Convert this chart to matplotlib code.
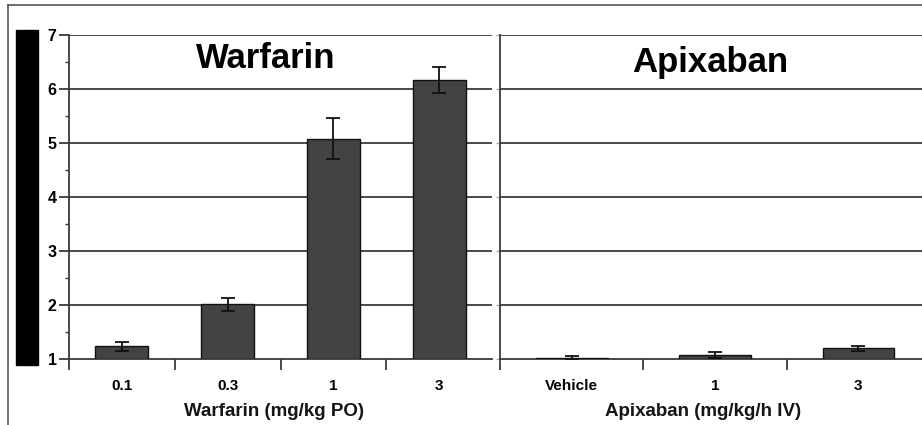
import numpy as np
import matplotlib
matplotlib.use('Agg')
import matplotlib.pyplot as plt
from matplotlib.patches import Rectangle
from matplotlib.lines import Line2D

plt.rcParams['font.family'] = ['Liberation Sans', 'DejaVu Sans']

# data
warf_doses = ['0.1', '0.3', '1', '3']
warf_vals = [1.24, 2.02, 5.08, 6.17]
warf_err = [0.08, 0.12, 0.38, 0.24]

apix_doses = ['Vehicle', '1', '3']
apix_vals = [1.03, 1.08, 1.20]
apix_err = [0.03, 0.05, 0.04]

yticks = [1, 2, 3, 4, 5, 6, 7]

W, H = 922, 425
fig = plt.figure(figsize=(W / 100, H / 100), dpi=100)

def px(x0, y0, x1, y1):
    # pixel box -> figure fraction [left, bottom, width, height]
    return [x0 / W, 1 - y1 / H, (x1 - x0) / W, (y1 - y0) / H]

ax1 = fig.add_axes(px(69, 35, 492, 359.3))
ax2 = fig.add_axes(px(500, 35, 930, 359.3))

barcol = '#434343'
gridcol = '#3a3a3a'

def setup(ax, labels, vals, errs, xlabel, lx, title, tx, ty, first):
    n = len(labels)
    x = np.arange(n)
    ax.set_axisbelow(True)
    ax.bar(x, [v - 1 for v in vals], bottom=1, width=0.5, color=barcol,
           edgecolor='#111111', linewidth=1.0, zorder=3)
    ax.errorbar(x, vals, yerr=errs, fmt='none', ecolor='#111111',
                elinewidth=1.3, capsize=5, capthick=1.3, zorder=4)
    ax.set_xlim(-0.5, n - 0.5)
    ax.set_ylim(1, 7)
    for y in yticks[1:]:
        ax.axhline(y, color=gridcol, lw=1.3, zorder=1)
    for s in ['top', 'right']:
        ax.spines[s].set_visible(False)
    ax.spines['bottom'].set_color(gridcol)
    ax.spines['bottom'].set_linewidth(1.3)
    ax.spines['left'].set_color(gridcol)
    ax.spines['left'].set_linewidth(1.3)
    ax.spines['left'].set_zorder(5)

    edges = np.arange(-0.5, n, 1.0)
    if first:
        edges = edges[:-1]
    ax.set_xticks(edges)
    ax.set_xticklabels([])
    ax.set_xticks(x, minor=True)
    ax.set_xticklabels(labels, minor=True, fontsize=11, fontweight='bold')
    ax.tick_params(axis='x', which='major', direction='out', length=8,
                   width=1.3, color=gridcol)
    ax.tick_params(axis='x', which='minor', length=0, pad=14)
    ax.set_xlabel(xlabel, fontsize=13.5, fontweight='bold', color='#151515')
    ax.xaxis.set_label_coords(lx, -0.135)

    ax.set_yticks(yticks)
    if first:
        ax.set_yticks(np.arange(1.5, 7, 1.0), minor=True)
        ax.set_yticklabels([str(t) for t in yticks], fontsize=11.5,
                           fontweight='bold')
        ax.tick_params(axis='y', which='major', direction='out', length=7,
                       width=1.3, color=gridcol, pad=2)
        ax.tick_params(axis='y', which='minor', direction='out', length=3,
                       width=1.0, color=gridcol)
    else:
        ax.set_yticklabels([])
        ax.tick_params(axis='y', which='major', direction='out', length=3,
                       width=1.0, color='#aaaaaa')
    ax.text(tx, ty, title, fontsize=25, fontweight='bold', ha='center',
            va='center')

setup(ax1, warf_doses, warf_vals, warf_err, 'Warfarin (mg/kg PO)', 0.485,
      'Warfarin', 1.36, 6.56, True)
setup(ax2, apix_doses, apix_vals, apix_err, 'Apixaban (mg/kg/h IV)', 0.472,
      'Apixaban', 0.965, 6.5, False)

# black bar at the left
fig.patches.append(Rectangle((16 / W, 1 - 365 / H), 22 / W, 335 / H,
                             transform=fig.transFigure, color='black'))
# frame lines
fig.lines.append(Line2D([8 / W, 8 / W], [0, 1 - 5 / H],
                        transform=fig.transFigure, color='#555555', lw=1.2))
fig.lines.append(Line2D([8 / W, 1], [1 - 5 / H, 1 - 5 / H],
                        transform=fig.transFigure, color='#555555', lw=1.2))

fig.savefig('out.png', dpi=100)
